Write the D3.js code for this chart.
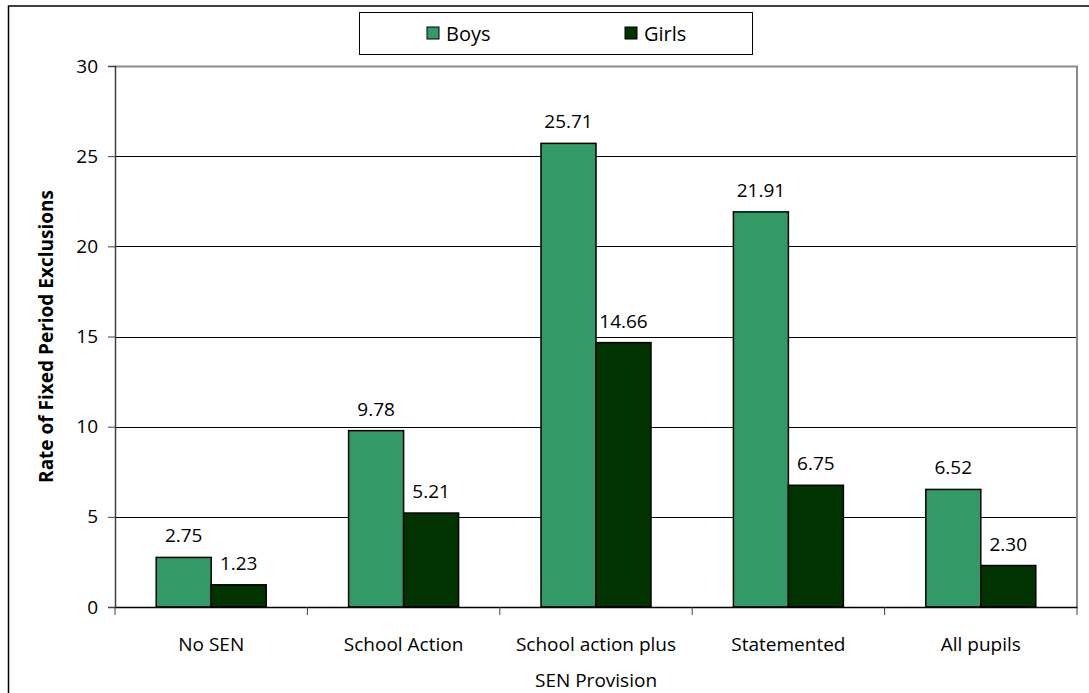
<!DOCTYPE html>
<html>
<head>
<meta charset="utf-8">
<script src="https://cdn.jsdelivr.net/npm/d3@7"></script>
<style>
  body { margin: 0; background: #fff; }
  text { font-family: "Open Sans", "Noto Sans", sans-serif; fill: #000; }
</style>
</head>
<body>
<svg id="chart" width="1089" height="693"></svg>
<script>
// data
const categories = ["No SEN", "School Action", "School action plus", "Statemented", "All pupils"];
const boys = [2.75, 9.78, 25.71, 21.91, 6.52];
const girls = [1.23, 5.21, 14.66, 6.75, 2.30];
const seriesNames = ["Boys", "Girls"];
const seriesColors = ["#339966", "#003300"];
const yTicks = [0, 5, 10, 15, 20, 25, 30];

const margin = { top: 66, right: 12, bottom: 86, left: 115 },
	width = 1089 - margin.left - margin.right,
	height = 693 - margin.top - margin.bottom;

const svg = d3.select("#chart");

// outer chart frame
svg.append("rect")
	.attr("x", 8.5).attr("y", 6)
	.attr("width", 1100).attr("height", 720)
	.attr("fill", "none")
	.attr("stroke", "#000")
	.attr("stroke-width", 1.5);

const g = svg.append("g")
	.attr("transform", `translate(${margin.left}, ${margin.top})`);

const x = d3.scaleBand()
	.domain(categories)
	.range([0, width])
	.paddingInner(0)
	.paddingOuter(0);

const inner = 55;
const xs = d3.scaleBand()
	.domain(seriesNames)
	.range([x.bandwidth() / 2 - inner, x.bandwidth() / 2 + inner]);

const y = d3.scaleLinear()
	.domain([0, 30])
	.range([height, 0]);

// gridlines
g.append("g")
	.selectAll("line")
	.data(yTicks.filter(d => d > 0 && d < 30))
	.join("line")
	.attr("x1", 0).attr("x2", width)
	.attr("y1", d => Math.round(y(d)) + 0.5)
	.attr("y2", d => Math.round(y(d)) + 0.5)
	.attr("stroke", "#000")
	.attr("stroke-width", 1);

// plot border top/right (gray)
g.append("path")
	.attr("d", `M0,0.5H${width}V${height}`)
	.attr("fill", "none")
	.attr("stroke", "#8c8c8c")
	.attr("stroke-width", 2);

// bars
const groups = g.selectAll(".grp")
	.data(categories.map((c, i) => ({ c, vals: [boys[i], girls[i]] })))
	.join("g")
	.attr("transform", d => `translate(${x(d.c)},0)`);

groups.selectAll("rect")
	.data(d => d.vals.map((v, j) => ({ v, s: seriesNames[j], j })))
	.join("rect")
	.attr("x", d => xs(d.s))
	.attr("y", d => y(d.v))
	.attr("width", xs.bandwidth())
	.attr("height", d => height - y(d.v))
	.attr("fill", d => seriesColors[d.j])
	.attr("stroke", "#000")
	.attr("stroke-width", 1.5);

groups.selectAll("text.val")
	.data(d => d.vals.map((v, j) => ({ v, s: seriesNames[j] })))
	.join("text")
	.attr("class", "val")
	.attr("x", d => xs(d.s) + xs.bandwidth() / 2)
	.attr("y", d => y(d.v) - 15)
	.attr("text-anchor", "middle")
	.style("font-size", "19px")
	.text(d => d.v.toFixed(2));

// Y axis
const yAxis = g.append("g")
	.call(d3.axisLeft(y).tickValues(yTicks).tickSize(7).tickPadding(10));
yAxis.select(".domain").attr("stroke", "#404040").attr("stroke-width", 1.5);
yAxis.selectAll(".tick line").attr("stroke", "#404040");
yAxis.selectAll("text").style("font-size", "19px").attr("font-family", null);

// X axis
const xAxis = g.append("g")
	.attr("transform", `translate(0,${height})`)
	.call(d3.axisBottom(x).tickSize(0).tickPadding(31));
xAxis.select(".domain").attr("stroke", "#000").attr("stroke-width", 1.5);
xAxis.selectAll("text").style("font-size", "19px").attr("font-family", null);
xAxis.selectAll("line.sep")
	.data(categories.concat(["end"]))
	.join("line")
	.attr("class", "sep")
	.attr("x1", (d, i) => i * x.bandwidth())
	.attr("x2", (d, i) => i * x.bandwidth())
	.attr("y1", 0).attr("y2", 8)
	.attr("stroke", "#404040");

// axis titles
svg.append("text")
	.attr("transform", `translate(53,${margin.top + height / 2}) rotate(-90)`)
	.attr("text-anchor", "middle")
	.style("font-size", "19px")
	.style("font-weight", "bold")
	.text("Rate of Fixed Period Exclusions");

svg.append("text")
	.attr("x", margin.left + width / 2)
	.attr("y", 687)
	.attr("text-anchor", "middle")
	.style("font-size", "19px")
	.text("SEN Provision");

// legend
const legend = svg.append("g");
legend.append("rect")
	.attr("x", 359.5).attr("y", 12.5)
	.attr("width", 393).attr("height", 42)
	.attr("fill", "#fff")
	.attr("stroke", "#000");
const legX = [427, 625];
seriesNames.forEach((s, i) => {
	legend.append("rect")
		.attr("x", legX[i]).attr("y", 27)
		.attr("width", 12).attr("height", 12)
		.attr("fill", seriesColors[i])
		.attr("stroke", "#000");
	legend.append("text")
		.attr("x", legX[i] + 19).attr("y", 41)
		.style("font-size", "20px")
		.text(s);
});
</script>
</body>
</html>
